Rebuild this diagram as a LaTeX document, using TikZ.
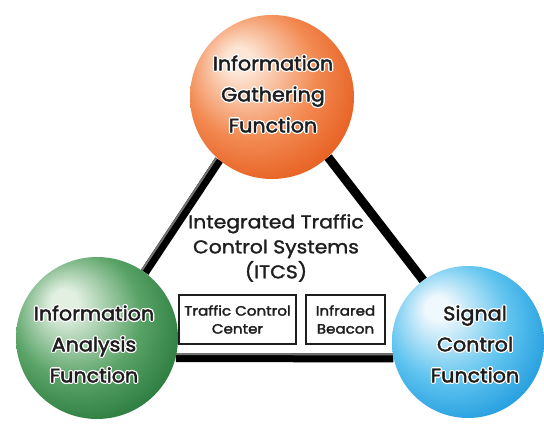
\documentclass[tikz,border=0pt]{standalone}
\usepackage{fontspec}
\setmainfont{Poppins}
\newfontfamily\widefont[FakeStretch=1.06]{Poppins}
\newfontfamily\titlefont[FakeStretch=1.1]{Poppins}
\newfontfamily\boxfont[FakeStretch=1.12]{Poppins}
\usetikzlibrary{backgrounds}

% sphere palettes: highlight, body, rim
\definecolor{orHi}{HTML}{FDE6D6}
\definecolor{orMid}{HTML}{F28A52}
\definecolor{orRim}{HTML}{E55718}
\definecolor{grHi}{HTML}{E2F0E2}
\definecolor{grMid}{HTML}{5AA367}
\definecolor{grRim}{HTML}{237537}
\definecolor{blHi}{HTML}{EEF8FD}
\definecolor{blMid}{HTML}{60C4EF}
\definecolor{blRim}{HTML}{1896DC}
\definecolor{ink}{HTML}{1E1E1E}

\pgfdeclareradialshading{orangeorb}{\pgfqpoint{-11bp}{12bp}}{%
  color(0bp)=(orHi); color(4bp)=(orHi); color(20bp)=(orMid);
  color(34bp)=(orRim); color(50bp)=(orRim)}
\pgfdeclareradialshading{greenorb}{\pgfqpoint{-11bp}{12bp}}{%
  color(0bp)=(grHi); color(4bp)=(grHi); color(20bp)=(grMid);
  color(34bp)=(grRim); color(50bp)=(grRim)}
\pgfdeclareradialshading{blueorb}{\pgfqpoint{-11bp}{12bp}}{%
  color(0bp)=(blHi); color(4bp)=(blHi); color(20bp)=(blMid);
  color(34bp)=(blRim); color(50bp)=(blRim)}

% a line of sphere lettering: white stroked outline under a slightly
% emboldened dark fill
\newcommand\haloline[1]{\leavevmode
  \rlap{\special{pdf:literal direct 1 Tr 3.2 w 1 j 1 1 1 RG}#1\special{pdf:literal direct 0 Tr}}%
  \special{pdf:literal direct 2 Tr 0.45 w 1 j 0.118 0.118 0.118 RG}#1\special{pdf:literal direct 0 Tr}}
% plain lettering, a touch heavier than the regular weight
\newcommand\heavier[1]{\special{pdf:literal direct 2 Tr 0.3 w 1 j 0.118 0.118 0.118 RG}#1\special{pdf:literal direct 0 Tr}}

\tikzset{
  orb/.style={circle, inner sep=0pt, draw=none, shade},
  orbtext/.style={align=center, text=ink, font=\widefont\fontsize{19.5}{31}\selectfont},
  bar/.style={line width=9pt, black},
  bargloss/.style={line width=2pt, black!55},
  title/.style={align=center, text=ink, font=\titlefont\fontsize{18.5}{25}\selectfont},
  unitbox/.style={draw=ink, line width=1.1pt, inner sep=0pt, align=center,
    text=ink, font=\boxfont\fontsize{13.5}{18}\selectfont},
}

\begin{document}
\begin{tikzpicture}[x=1pt, y=-1pt]
  \useasboundingbox (0,0) rectangle (544,425);

  % the three function spheres
  \node[orb, shading=orangeorb, minimum size=164pt] (gather) at (272,97) {};
  \node[orb, shading=greenorb, minimum size=162pt] (analysis) at (97,338) {};
  \node[orb, shading=blueorb, minimum size=152pt] (signal) at (468,342) {};

  \node[orbtext] (gatherText) at (273,94)
    {\haloline{Information}\\\haloline{Gathering}\\\haloline{Function}};
  \node[orbtext] (analysisText) at (94,344)
    {\haloline{Information}\\\haloline{Analysis}\\\haloline{Function}};
  \node[orbtext] (signalText) at (475,344)
    {\haloline{Signal}\\\haloline{Control}\\\haloline{Function}};

  % triangle of links, behind the spheres; a grey sheen along one edge
  \begin{pgfonlayer}{background}
    \draw[bar] (gather.230) -- (analysis.54);
    \draw[bar] (gather.313) -- (signal.126);
    \draw[bar] (analysis.-14) -- (signal.192);
    \draw[bargloss, transform canvas={xshift=-2.9pt, yshift=1.9pt}] (gather.230) -- (analysis.54);
    \draw[bargloss, transform canvas={yshift=3.5pt}] (analysis.-14) -- (signal.192);
  \end{pgfonlayer}

  % system title and its units
  \node[title] (itcs) at (276,248)
    {\heavier{Integrated Traffic}\\\heavier{Control Systems}\\\heavier{(ITCS)}};
  \node[unitbox, minimum width=117pt, minimum height=49pt] (center) at (237.5,319.5)
    {\heavier{Traffic Control}\\\heavier{Center}};
  \node[unitbox, minimum width=79pt, minimum height=49pt] (beacon) at (345.5,319.5)
    {\heavier{Infrared}\\\heavier{Beacon}};
\end{tikzpicture}
\end{document}
